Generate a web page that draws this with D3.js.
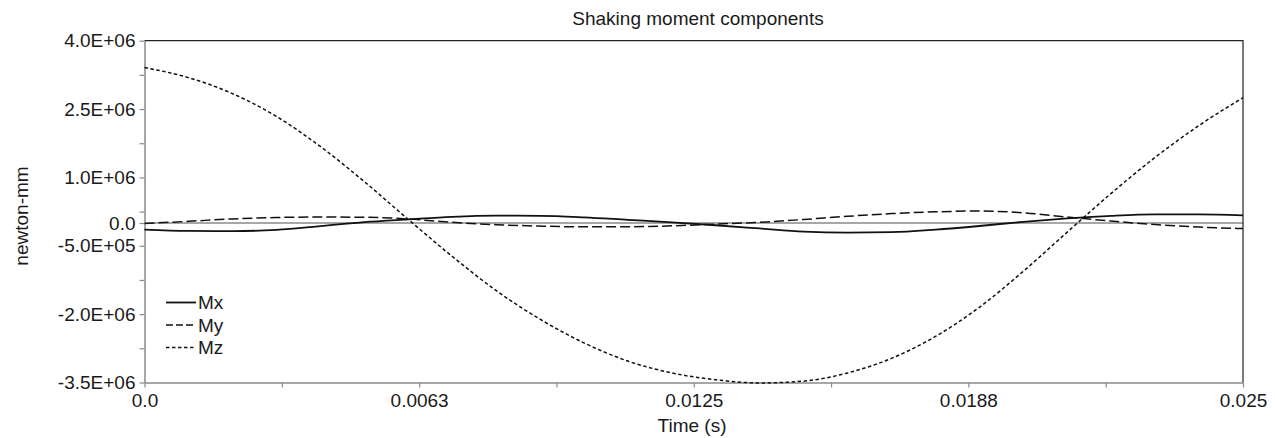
<!DOCTYPE html>
<html>
<head>
<meta charset="utf-8">
<script src="https://cdn.jsdelivr.net/npm/d3@7"></script>
<style>
  html, body { margin: 0; padding: 0; background: #fff; }
  svg { display: block; }
  text { font-family: "Liberation Sans", Arial, sans-serif; fill: #1a1a1a; }
</style>
</head>
<body>
<svg id="chart" width="1275" height="438"></svg>
<script>
// ---- data ----
const time = [0, 0.001, 0.002, 0.003, 0.004, 0.005, 0.006, 0.007, 0.008, 0.009,
              0.010, 0.011, 0.012, 0.013, 0.014, 0.015, 0.016, 0.017, 0.018, 0.019,
              0.020, 0.021, 0.022, 0.023, 0.024, 0.025];
const mx = [-0.144e6, -0.175e6, -0.180e6, -0.150e6, -0.070e6, 0.020e6, 0.080e6, 0.135e6, 0.160e6, 0.158e6,
            0.125e6, 0.070e6, 0.015e6, -0.050e6, -0.120e6, -0.190e6, -0.210e6, -0.200e6, -0.145e6, -0.066e6,
            0.026e6, 0.100e6, 0.158e6, 0.190e6, 0.190e6, 0.168e6];
const my = [-0.013e6, 0.037e6, 0.090e6, 0.120e6, 0.130e6, 0.127e6, 0.088e6, 0.015e6, -0.037e6, -0.068e6,
            -0.085e6, -0.083e6, -0.063e6, -0.024e6, 0.015e6, 0.077e6, 0.147e6, 0.206e6, 0.245e6, 0.263e6,
            0.223e6, 0.131e6, 0.042e6, -0.035e6, -0.090e6, -0.123e6];
const mz = [3.41e6, 3.19e6, 2.84e6, 2.34e6, 1.68e6, 0.91e6, 0.08e6, -0.73e6, -1.48e6, -2.11e6,
            -2.63e6, -3.03e6, -3.29e6, -3.44e6, -3.51e6, -3.47e6, -3.29e6, -2.97e6, -2.49e6, -1.85e6,
            -1.06e6, -0.20e6, 0.65e6, 1.44e6, 2.14e6, 2.75e6];
const seriesNames = ["Mx", "My", "Mz"];

const yTickValues = [4.0e6, 2.5e6, 1.0e6, 0, -0.5e6, -2.0e6, -3.5e6];
const yTickLabels = ["4.0E+06", "2.5E+06", "1.0E+06", "0.0", "-5.0E+05", "-2.0E+06", "-3.5E+06"];
const yMinorTicks = [3.25e6, 1.75e6, 0.25e6, -1.25e6, -2.75e6];
const xTickValues = [0, 0.00625, 0.0125, 0.01875, 0.025];
const xTickLabels = ["0.0", "0.0063", "0.0125", "0.0188", "0.025"];
const xMinorTicks = [0.003125, 0.009375, 0.015625, 0.021875];

const titleText = "Shaking moment components";
const xTitle = "Time (s)";
const yTitle = "newton-mm";

// ---- layout ----
const L = 144.5, R = 1243, T = 40.7, B = 382.5;
const svg = d3.select("#chart");
const x = d3.scaleLinear().domain([0, 0.025]).range([L, R]);
const y = d3.scaleLinear().domain([-3.5e6, 4.0e6]).range([B, T]);
const axisGray = "#8a8a8a";
const fs = 19;

// zero line
svg.append("line")
  .attr("x1", L).attr("x2", R).attr("y1", y(0)).attr("y2", y(0))
  .attr("stroke", axisGray).attr("stroke-width", 1.5);

// top & right border
svg.append("path")
  .attr("d", `M${L},${T}H${R}V${B}`)
  .attr("fill", "none").attr("stroke", "#222").attr("stroke-width", 1.2);

// y axis
svg.append("g").attr("transform", `translate(${L},0)`)
  .call(d3.axisLeft(y).tickValues(yTickValues)
    .tickFormat((d, i) => yTickLabels[i]).tickSize(5).tickSizeOuter(0).tickPadding(4));
const yMinor = svg.append("g").attr("transform", `translate(${L},0)`)
  .call(d3.axisLeft(y).tickValues(yMinorTicks).tickFormat("").tickSize(5).tickSizeOuter(0));
yMinor.select(".domain").remove();

// x axis
svg.append("g").attr("transform", `translate(0,${B})`)
  .call(d3.axisBottom(x).tickValues(xTickValues)
    .tickFormat((d, i) => xTickLabels[i]).tickSize(5).tickSizeOuter(0).tickPadding(6));
const xMinor = svg.append("g").attr("transform", `translate(0,${B})`)
  .call(d3.axisBottom(x).tickValues(xMinorTicks).tickFormat("").tickSize(5).tickSizeOuter(0));
xMinor.select(".domain").remove();

svg.selectAll(".domain").attr("stroke", axisGray).attr("stroke-width", 1.5);
svg.selectAll(".tick line").attr("stroke", axisGray).attr("stroke-width", 1.2);
svg.selectAll(".tick text")
  .style("font-family", '"Liberation Sans", Arial, sans-serif')
  .style("font-size", fs + "px").attr("fill", "#1a1a1a");

// series lines
const lineStyles = [
  { dash: null, width: 1.8 },
  { dash: "10,4", width: 1.5 },
  { dash: "3.5,2.5", width: 1.5 }
];
const seriesData = [mx, my, mz];
const line = d3.line().x((d, i) => x(time[i])).y(d => y(d)).curve(d3.curveMonotoneX);
seriesData.forEach((vals, k) => {
  svg.append("path").datum(vals)
    .attr("d", line)
    .attr("fill", "none")
    .attr("stroke", "#111")
    .attr("stroke-width", lineStyles[k].width)
    .attr("stroke-dasharray", lineStyles[k].dash);
});

// legend
const legendY = [302.5, 325, 347.5];
seriesNames.forEach((name, k) => {
  svg.append("line")
    .attr("x1", 166).attr("x2", 196).attr("y1", legendY[k]).attr("y2", legendY[k])
    .attr("stroke", "#111").attr("stroke-width", lineStyles[k].width)
    .attr("stroke-dasharray", k === 1 ? "7,3" : lineStyles[k].dash);
  svg.append("text").attr("x", 198).attr("y", legendY[k]).attr("dy", "0.35em")
    .style("font-size", fs + "px").text(name);
});

// titles
svg.append("text").attr("x", 698).attr("y", 18).attr("dy", "0.35em")
  .attr("text-anchor", "middle").style("font-size", fs + "px").text(titleText);
svg.append("text").attr("x", 692).attr("y", 425).attr("dy", "0.35em")
  .attr("text-anchor", "middle").style("font-size", fs + "px").text(xTitle);
svg.append("text").attr("transform", `translate(21,216) rotate(-90)`).attr("dy", "0.35em")
  .attr("text-anchor", "middle").style("font-size", fs + "px").text(yTitle);
</script>
</body>
</html>
